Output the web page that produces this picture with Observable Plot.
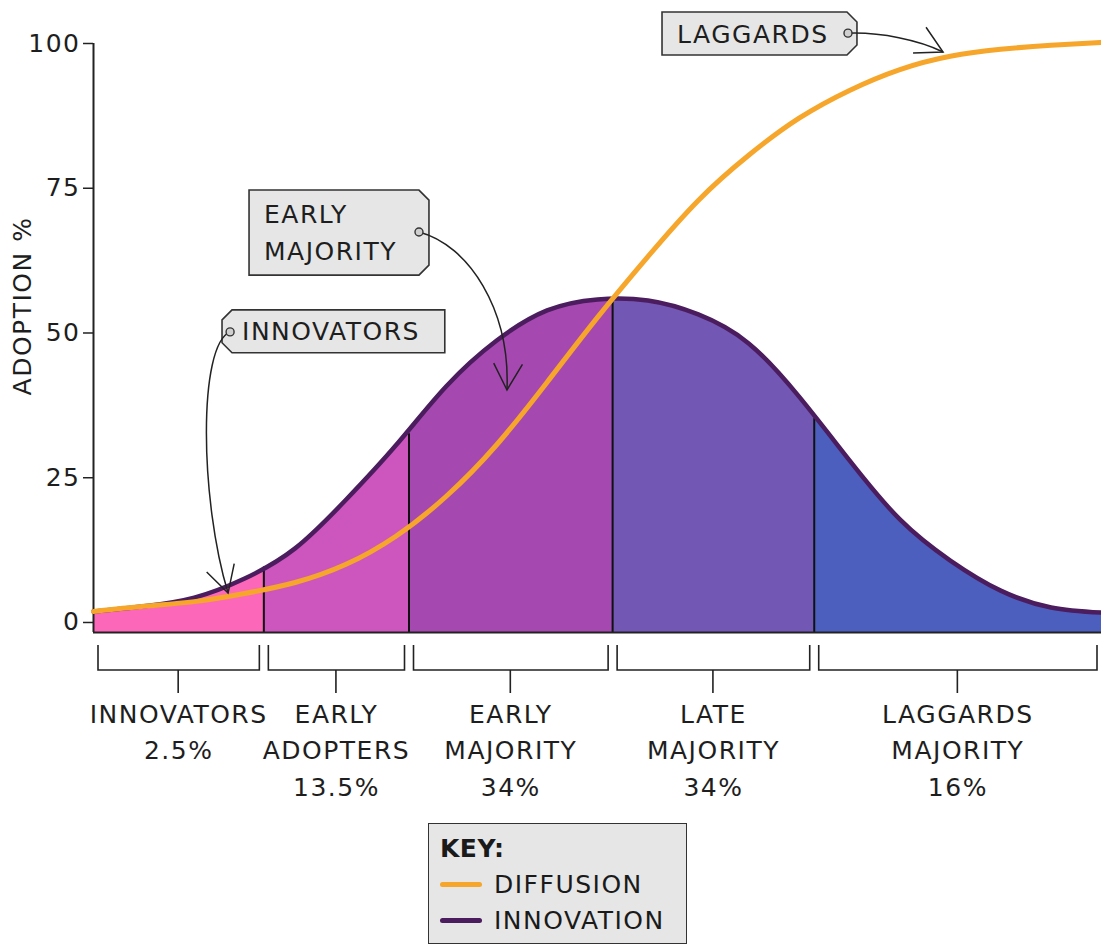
<!DOCTYPE html>
<html>
<head>
<meta charset="utf-8">
<script src="https://cdn.jsdelivr.net/npm/d3@7"></script>
<script src="https://cdn.jsdelivr.net/npm/@observablehq/plot@0.6"></script>
<style>
  body { margin: 0; background: #fff; font-family: "DejaVu Sans", sans-serif; }
  #chart svg text { letter-spacing: 1.5px; }
  #legend {
    position: relative; margin-left: 428px; margin-top: 8px;
    width: 259px; height: 121px; box-sizing: border-box;
    border: 1.5px solid #333; background: #e6e6e6; color: #1a1a1a;
  }
  #legend .t { position: absolute; font-size: 25px; line-height: 25px; letter-spacing: 1.5px; white-space: nowrap; }
  #legend .sw { position: absolute; left: 11px; width: 42px; height: 5px; border-radius: 3px; }
</style>
</head>
<body>
<div id="chart"></div>
<div id="legend">
  <div class="t" style="left:11px; top:12px; font-weight:bold; letter-spacing:0.5px;">KEY:</div>
  <div class="sw" style="top:58px; background:#f6a62a;"></div>
  <div class="t" style="left:65px; top:48px;">DIFFUSION</div>
  <div class="sw" style="top:94px; background:#4b1c5e;"></div>
  <div class="t" style="left:65px; top:84px;">INNOVATION</div>
</div>
<script>
// ---------- data ----------
const curveX = [0, 5, 10, 15, 20, 25, 30, 35, 40, 45, 50, 55, 60, 65, 70, 75, 80, 85, 90, 95, 100];
const innovationY = [1.9, 2.8, 4.3, 7.6, 12.8, 21.1, 30.6, 40.8, 48.7, 53.9, 55.8, 55.6, 53.2, 48.2, 39.0, 28.0, 17.8, 10.7, 5.5, 2.6, 1.7];
const diffusionY = [1.9, 2.8, 3.6, 5.0, 6.9, 10.0, 14.9, 21.8, 30.7, 41.5, 52.7, 63.2, 72.9, 80.7, 87.1, 91.9, 95.5, 97.8, 99.0, 99.7, 100.2];

const segmentNames = ["INNOVATORS", "EARLY\nADOPTERS", "EARLY\nMAJORITY", "LATE\nMAJORITY", "LAGGARDS\nMAJORITY"];
const segmentShares = ["2.5%", "13.5%", "34%", "34%", "16%"];
const segmentBounds = [0, 16.9, 31.3, 51.5, 71.5, 100];
const boundaryTopY = [9.6, 32.6, 55.8, 35.2];
const segmentColors = ["#fd67b9", "#cc56bd", "#a548b0", "#7257b4", "#4c5fbf"];
const yTicks = [0, 25, 50, 75, 100];
const baseY = -1.73;

const tagLabels = ["LAGGARDS", "EARLY\nMAJORITY", "INNOVATORS"];

// ---------- tables ----------
const innovation = curveX.map((x, i) => ({x, y: innovationY[i]}));
const diffusion = curveX.map((x, i) => ({x, y: diffusionY[i]}));
const segments = segmentNames.map((name, i) => ({
  name, share: segmentShares[i], x1: segmentBounds[i], x2: segmentBounds[i + 1],
  mid: (segmentBounds[i] + segmentBounds[i + 1]) / 2, color: segmentColors[i]
}));
const boundaries = segmentBounds.slice(1, -1).map((x, i) => ({x, y: boundaryTopY[i]}));

// annotation layout (data coordinates)
const annotations = [
  {label: tagLabels[0], box: [56.45, 105.35, 75.79, 97.93], side: "right", pad: 15,
   ring: [74.9, 101.7], c1: [78.1, 101.9], c2: [82.0, 100.5], to: [84.33, 98.45]},
  {label: tagLabels[1], box: [15.48, 74.6, 33.33, 59.9], side: "right", pad: 15,
   ring: [32.34, 67.36], c1: [37.3, 65.1], c2: [41.4, 53.9], to: [41.07, 40.07]},
  {label: tagLabels[2], box: [12.8, 53.9, 34.9, 46.5], side: "left", pad: 20,
   ring: [13.6, 50.1], c1: [10.4, 47.8], c2: [10.6, 21.1], to: [13.4, 5.0]}
];

const FONT = "DejaVu Sans";
const INK = "#1e1e1e";
const CURVE = "natural";

const chart = Plot.plot({
  width: 1101,
  height: 815,
  marginLeft: 93,
  marginRight: 0,
  marginTop: 43,
  marginBottom: 183,
  x: {domain: [0, 100], axis: null},
  y: {domain: [baseY, 100]},
  style: {fontFamily: FONT, fontSize: "25px", color: INK, background: "transparent", overflow: "visible"},
  marks: [
    // one full area per segment colour; each is clipped to its own segment below
    ...segments.map(s => Plot.areaY(innovation, {x: "x", y1: baseY, y2: "y", fill: s.color, curve: CURVE})),
    Plot.ruleX(boundaries, {x: "x", y1: baseY, y2: "y", stroke: "#111", strokeWidth: 2}),
    Plot.line(innovation, {x: "x", y: "y", stroke: "#4b1c5e", strokeWidth: 4.5, curve: CURVE}),
    Plot.ruleY([baseY], {stroke: "#222", strokeWidth: 2}),
    Plot.ruleX([0], {y1: baseY, y2: 100, stroke: "#222", strokeWidth: 2}),
    Plot.axisY({ticks: yTicks, tickSize: 10, tickPadding: 3, fontSize: 25, label: null, stroke: "#222", strokeWidth: 1.5}),
    Plot.text(["ADOPTION %"], {frameAnchor: "left", textAnchor: "middle", rotate: -90, dx: -71, dy: -32, fontSize: 25, fill: INK}),
    Plot.text(segments, {
      x: "mid", y: baseY, text: d => d.name + "\n" + d.share,
      dy: 65, lineAnchor: "top", lineHeight: 1.45, fontSize: 25, fill: INK
    }),
    Plot.line(diffusion, {x: "x", y: "y", stroke: "#f6a62a", strokeWidth: 5, curve: CURVE})
  ]
});

document.getElementById("chart").appendChild(chart);

// ---------- scales of the plot ----------
const xs = chart.scale("x"), ys = chart.scale("y");
const X = d3.scaleLinear(xs.domain, xs.range);
const Y = d3.scaleLinear(ys.domain, ys.range);
const svg = d3.select(chart);

// clip each segment's area to its x-range
const defs = svg.insert("defs", ":first-child");
const areaGroups = svg.selectAll('g[aria-label="area"]').nodes();
segments.forEach((s, i) => {
  const id = "seg-clip-" + i;
  defs.append("clipPath").attr("id", id).append("rect")
    .attr("x", X(s.x1) - (i ? 0.5 : 0)).attr("y", 0)
    .attr("width", X(s.x2) - X(s.x1) + (i ? 0.5 : 0)).attr("height", 815);
  if (areaGroups[i]) areaGroups[i].setAttribute("clip-path", `url(#${id})`);
});

// brackets under each segment
const g = svg.append("g").attr("fill", "none").attr("stroke", "#222");
const by = Y(baseY);
for (const s of segments) {
  const a = X(s.x1) + 5, b = X(s.x2) - 4, m = X(s.mid);
  g.append("path").attr("stroke-width", 1.6)
    .attr("d", `M${a},${by + 13}V${by + 38}H${b}V${by + 13}M${m},${by + 38}V${by + 61}`);
}

// tags + arrows
for (const an of annotations) {
  const [bx1, by1, bx2, by2] = [X(an.box[0]), Y(an.box[1]), X(an.box[2]), Y(an.box[3])];
  const c = 10;
  const d = an.side === "right"
    ? `M${bx1},${by1}H${bx2 - c}L${bx2},${by1 + c}V${by2 - c}L${bx2 - c},${by2}H${bx1}Z`
    : `M${bx1 + c},${by1}H${bx2}V${by2}H${bx1 + c}L${bx1},${by2 - c}V${by1 + c}Z`;
  const ag = svg.append("g");
  ag.append("path").attr("d", d).attr("fill", "#e6e6e6").attr("stroke", "#333").attr("stroke-width", 1.6);
  const lines = an.label.split("\n");
  const cy = (by1 + by2) / 2;
  lines.forEach((t, i) => {
    ag.append("text")
      .attr("x", bx1 + an.pad)
      .attr("y", cy + (i - (lines.length - 1) / 2) * 37 + 25 * 0.365)
      .attr("text-anchor", "start")
      .attr("font-family", FONT).attr("font-size", 25).attr("fill", INK)
      .attr("letter-spacing", "1.5px")
      .text(t);
  });
  const r = [X(an.ring[0]), Y(an.ring[1])];
  const c1 = [X(an.c1[0]), Y(an.c1[1])], c2 = [X(an.c2[0]), Y(an.c2[1])];
  const to = [X(an.to[0]), Y(an.to[1])];
  ag.append("path").attr("fill", "none").attr("stroke", "#222").attr("stroke-width", 1.5)
    .attr("d", `M${r[0]},${r[1]}C${c1[0]},${c1[1]} ${c2[0]},${c2[1]} ${to[0]},${to[1]}`);
  const ang = Math.atan2(to[1] - c2[1], to[0] - c2[0]);
  const L = 30, spread = 0.5;
  const p1 = [to[0] - L * Math.cos(ang - spread), to[1] - L * Math.sin(ang - spread)];
  const p2 = [to[0] - L * Math.cos(ang + spread), to[1] - L * Math.sin(ang + spread)];
  ag.append("path").attr("fill", "none").attr("stroke", "#222").attr("stroke-width", 1.5)
    .attr("d", `M${p1[0]},${p1[1]}L${to[0]},${to[1]}L${p2[0]},${p2[1]}`);
  ag.append("circle").attr("cx", r[0]).attr("cy", r[1]).attr("r", 4)
    .attr("fill", "#cfcfcf").attr("stroke", "#333").attr("stroke-width", 1.4);
}
</script>
</body>
</html>
